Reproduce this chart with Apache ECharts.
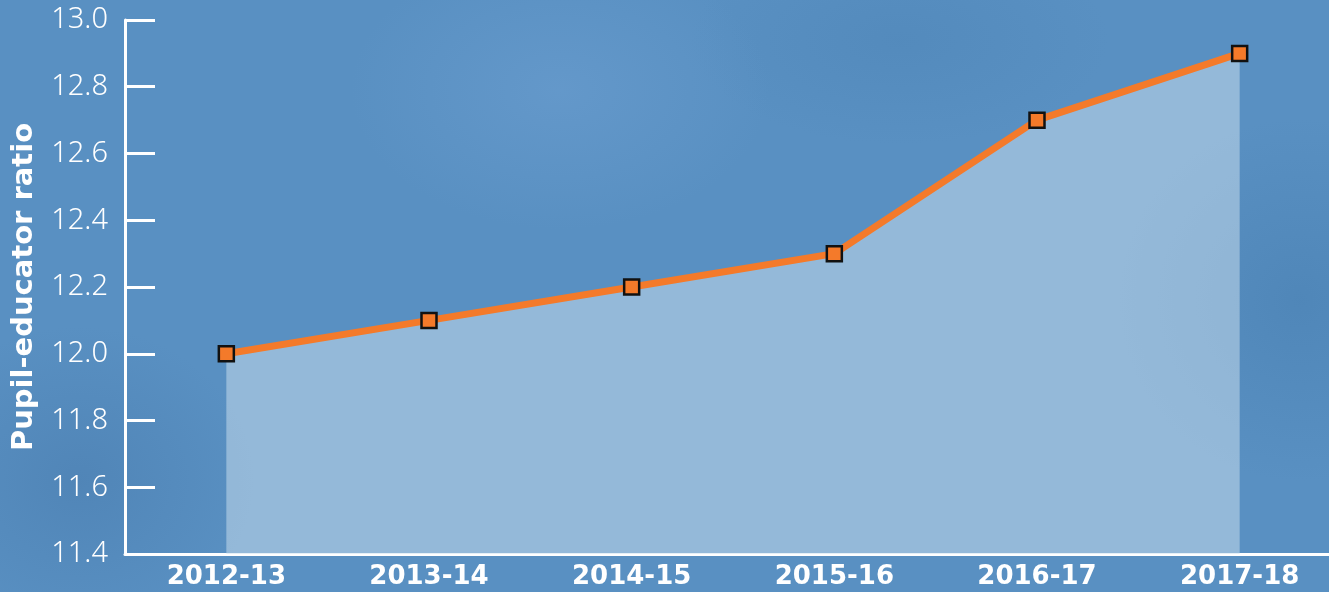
<!DOCTYPE html>
<html><head><meta charset="utf-8">
<script src="https://cdn.jsdelivr.net/npm/echarts@6/dist/echarts.min.js"></script>
<style>
html,body{margin:0;padding:0;width:1329px;height:592px;overflow:hidden;}
body{background:
 radial-gradient(ellipse 300px 200px at 560px 90px, rgba(110,160,210,0.5), rgba(110,160,210,0) 70%),
 radial-gradient(ellipse 250px 220px at 80px 480px, rgba(70,120,170,0.45), rgba(70,120,170,0) 70%),
 radial-gradient(ellipse 260px 260px at 1300px 300px, rgba(70,125,175,0.5), rgba(70,125,175,0) 70%),
 radial-gradient(ellipse 300px 150px at 900px 40px, rgba(75,130,180,0.4), rgba(75,130,180,0) 70%),
 #5990c2;}
#c{width:1329px;height:592px;}
</style></head>
<body><div id="c"></div>
<script>
var categories = ['2012-13','2013-14','2014-15','2015-16','2016-17','2017-18'];
var ratio = [12.0, 12.1, 12.2, 12.3, 12.7, 12.9];
var yMin = 11.4, yMax = 13.0, yStep = 0.2;
var yTitle = 'Pupil-educator ratio';

var chart = echarts.init(document.getElementById('c'), null, {renderer:'canvas'});
chart.setOption({
  backgroundColor: 'transparent',
  animation: false,
  grid: {left: 125, top: 20, width: 1216, height: 534, containLabel: false, outerBoundsMode: 'none'},
  xAxis: {
    type: 'category', data: categories, boundaryGap: true,
    axisLine: {show: true, lineStyle: {color: '#ffffff', width: 3}},
    axisTick: {show: false},
    axisLabel: {color: '#ffffff', fontFamily: 'DejaVu Sans', fontWeight: 'bold', fontSize: 26, margin: 10}
  },
  yAxis: {
    type: 'value', min: yMin, max: yMax, interval: yStep,
    name: yTitle, nameLocation: 'middle', nameGap: 86, nameRotate: 90,
    nameTextStyle: {color: '#ffffff', fontFamily: 'DejaVu Sans', fontWeight: 'bold', fontSize: 29},
    splitLine: {show: false},
    axisLine: {show: true, lineStyle: {color: '#ffffff', width: 3}},
    axisTick: {show: true, inside: true, length: 30, lineStyle: {color: '#ffffff', width: 3}},
    axisLabel: {color: '#ffffff', fontFamily: 'Noto Sans', fontWeight: 300, fontSize: 29, margin: 17,
      formatter: function(v){ return v.toFixed(1); }}
  },
  series: [{
    type: 'line', data: ratio,
    symbol: 'rect', symbolSize: 15,
    itemStyle: {color: '#f47a2a', borderColor: '#111111', borderWidth: 2.5},
    lineStyle: {color: '#f47a2a', width: 7},
    areaStyle: {color: 'rgba(205,225,240,0.72)', origin: 'start'},
    z: 3
  }]
});
</script></body></html>
